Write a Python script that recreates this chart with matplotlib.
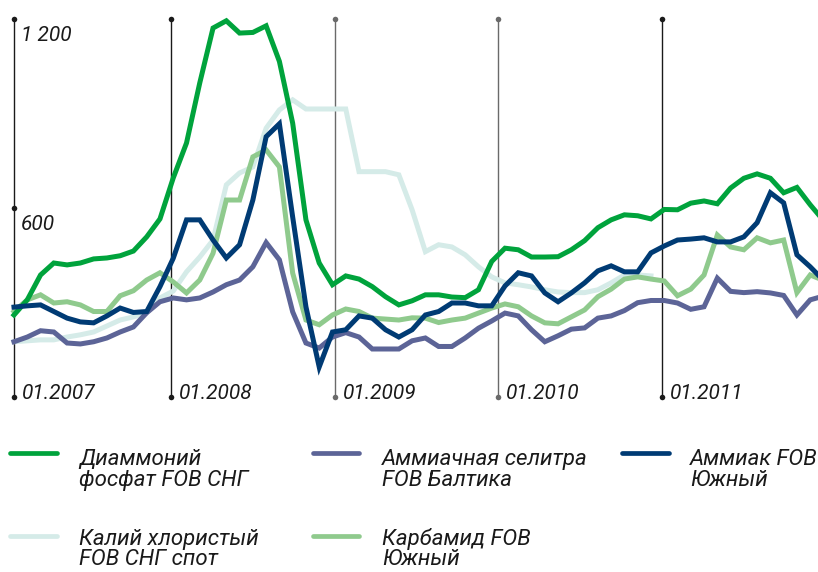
import numpy as np
import matplotlib
matplotlib.use('Agg')
import matplotlib.pyplot as plt
from matplotlib.lines import Line2D
from matplotlib.transforms import offset_copy

#------------------------------------------------------------------------------------------
# monthly prices, $/t, from 01.2007

dap = [260, 308, 387, 425, 419, 425, 438, 441, 448, 463, 508, 565,
       695, 806, 997, 1171, 1194, 1155, 1157, 1178, 1065, 869, 562, 425,
       356, 384, 374, 350, 318, 292, 305, 324, 324, 317, 315, 340,
       430, 472, 467, 444, 444, 445, 467, 496, 537, 562, 578, 575,
       565, 595, 594, 615, 622, 613, 663, 694, 708, 694, 648, 665,
       610, 560]

ammonium_nitrate = [175, 190, 210, 206, 171, 168, 175, 187, 206, 222, 267, 302,
                    314, 308, 314, 333, 356, 371, 413, 490, 435, 270, 171, 155,
                    190, 204, 190, 152, 152, 152, 178, 187, 160, 160, 187, 218,
                    241, 266, 257, 213, 175, 194, 215, 219, 250, 257, 274, 299,
                    306, 306, 298, 278, 286, 377, 335, 331, 334, 330, 322, 260,
                    308, 320]

ammonia = [285, 289, 292, 271, 250, 238, 235, 257, 282, 268, 271, 350,
           440, 562, 562, 498, 441, 483, 625, 826, 867, 571, 286, 95,
           206, 213, 257, 250, 213, 190, 213, 260, 271, 298, 298, 289,
           289, 352, 394, 384, 330, 302, 330, 362, 400, 416, 397, 397,
           457, 479, 498, 501, 505, 492, 492, 508, 553, 648, 616, 451,
           413, 370]

potash = [175, 178, 181, 181, 190, 197, 206, 225, 244, 254, 267, 314,
          336, 397, 444, 498, 673, 711, 730, 853, 911, 943, 914, 914,
          914, 914, 715, 715, 715, 705, 594, 461, 483, 476, 451, 413,
          381, 362, 356, 349, 340, 333, 331, 331, 340, 362, 387, 387,
          384]

urea = [271, 308, 324, 298, 302, 292, 271, 271, 321, 337, 371, 394,
        365, 330, 371, 456, 625, 625, 762, 784, 730, 393, 244, 229,
        260, 279, 271, 250, 247, 244, 251, 250, 236, 244, 250, 266,
        282, 295, 286, 257, 235, 232, 254, 276, 318, 342, 374, 381,
        374, 368, 321, 342, 387, 514, 476, 467, 505, 489, 498, 331,
        387, 370]

year_labels = ['01.2007', '01.2008', '01.2009', '01.2010', '01.2011']
year_pos = [0, 11.8, 24.2, 36.5, 48.8]
y_ticks = [600, 1200]
y_tick_labels = ['600', '1 200']

names = [['Диаммоний', 'фосфат FOB СНГ'],
         ['Аммиачная селитра', 'FOB Балтика'],
         ['Аммиак FOB', 'Южный'],
         ['Калий хлористый', 'FOB СНГ спот'],
         ['Карбамид FOB', 'Южный']]
colors = ['#00a33c', '#5c6497', '#003b74', '#d5ebe8', '#8fca8d']

#------------------------------------------------------------------------------------------

plt.rcParams['font.family'] = ['Roboto', 'DejaVu Sans']
plt.rcParams['font.style'] = 'italic'

W, H = 818, 572
fig = plt.figure(figsize=(W / 100, H / 100), dpi=100)
ax = fig.add_axes([0, 0, 1, 1])
ax.set_xlim(-14 / 13.27, 804 / 13.27)
ax.set_ylim(-556, 1260)
ax.axis('off')

# year lines with dots
line_cols = ['#1a1a1a', '#1a1a1a', '#6a6a6a', '#6a6a6a', '#1a1a1a']
for x, c in zip(year_pos, line_cols):
    ax.plot([x, x], [0, 1200], color=c, lw=1, zorder=1)
    ax.plot([x, x], [0, 1200], 'o', color=c, ms=4, mec='none', zorder=1)
ax.plot(0, 600, 'o', color='#1a1a1a', ms=4, mec='none', zorder=1)

lab_tr = offset_copy(ax.transData, fig=fig, x=8, y=-2, units='dots')
for x, lab in zip(year_pos, year_labels):
    ax.text(x, 0, lab, transform=lab_tr, fontsize=15, va='baseline', ha='left', color='#1a1a1a')

ytr = offset_copy(ax.transData, fig=fig, x=7, y=-7, units='dots')
for v, lab in zip(y_ticks, y_tick_labels):
    ax.text(0, v, lab, transform=ytr, fontsize=15, va='top', ha='left', color='#1a1a1a')

# series, bottom to top
series = [potash, urea, ammonium_nitrate, dap, ammonia]
order = [3, 4, 1, 0, 2]
for s, k in zip(series, order):
    ax.plot(np.arange(len(s)), s, color=colors[k], lw=3.6, solid_joinstyle='miter', zorder=2)

#------------------ legend ---------------------------------------------------------------
cols_x = [(10, 57, 79), (313, 359, 382), (622, 669, 690)]
rows_y = [(453, 465, 21), (536, 545, 20)]
for k, nm in enumerate(names):
    x0, x1, tx = cols_x[k % 3]
    ly, by, step = rows_y[k // 3]
    fig.add_artist(Line2D([x0 / W, x1 / W], [1 - ly / H, 1 - ly / H], color=colors[k],
                          lw=3.4, solid_capstyle='round', transform=fig.transFigure))
    for j, t in enumerate(nm):
        fig.text(tx / W, 1 - (by + step * j) / H, t, fontsize=16, va='baseline', ha='left', color='#1a1a1a')

plt.savefig('out.png', dpi=100)
